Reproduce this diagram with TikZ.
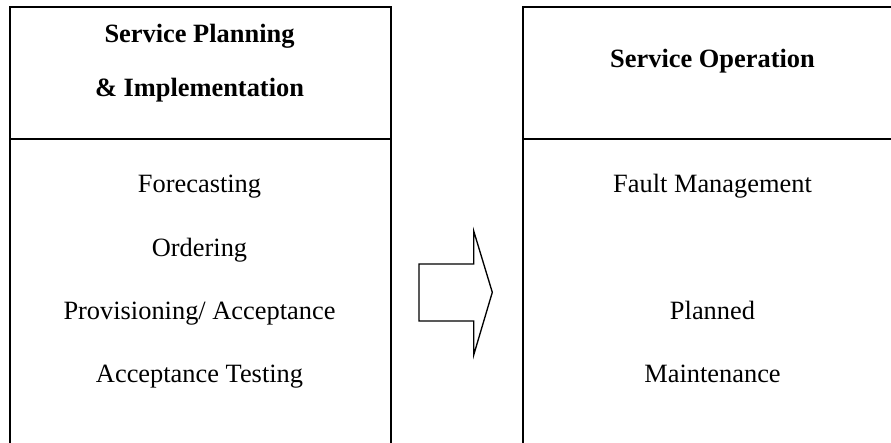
\documentclass[tikz,border=0pt]{standalone}
\usepackage{fontspec}
\setmainfont{Liberation Serif}
\begin{document}
\begin{tikzpicture}[x=0.75pt,y=-0.75pt,
  panel/.style={draw, line width=1.5pt, minimum width=381*0.75pt,
    minimum height=439*0.75pt, anchor=north west, inner sep=0pt},
  head/.style={anchor=base, font=\fontsize{19.8}{24}\selectfont\bfseries, inner sep=0pt},
  item/.style={anchor=base, font=\fontsize{19.8}{24}\selectfont, inner sep=0pt}]
\useasboundingbox (0,0) rectangle (891,442);

% two panels, each with a header strip
\node[panel] (left) at (9,6) {};
\node[panel] (right) at (522,6) {};
\draw[line width=1.7pt] (left.west |- 0,139) -- (left.east |- 0,139);
\draw[line width=1.7pt] (right.west |- 0,139) -- (right.east |- 0,139);

% headers
\node[head] (h1) at (199.5,43) {Service Planning};
\node[head] (h2) at (199.5,97) {\& Implementation};
\node[head] (h3) at (712.5,68) {Service Operation};

% left panel items
\node[item] (l1) at (199.5,192.5) {Forecasting};
\node[item] (l2) at (199.5,256) {Ordering};
\node[item] (l3) at (199.5,319) {Provisioning/ Acceptance};
\node[item] (l4) at (199.5,382) {Acceptance Testing};

% right panel items
\node[item] (r1) at (712.5,192.5) {Fault Management};
\node[item] (r2) at (712.5,319) {Planned};
\node[item] (r3) at (712.5,382) {Maintenance};

% block arrow between the panels
\draw[line width=1pt, line join=miter]
  (419,264) -- (473.7,264) -- (473.7,231) -- (492.3,292.3)
  -- (473.7,355) -- (473.7,321) -- (419,321) -- cycle;
\end{tikzpicture}
\end{document}
